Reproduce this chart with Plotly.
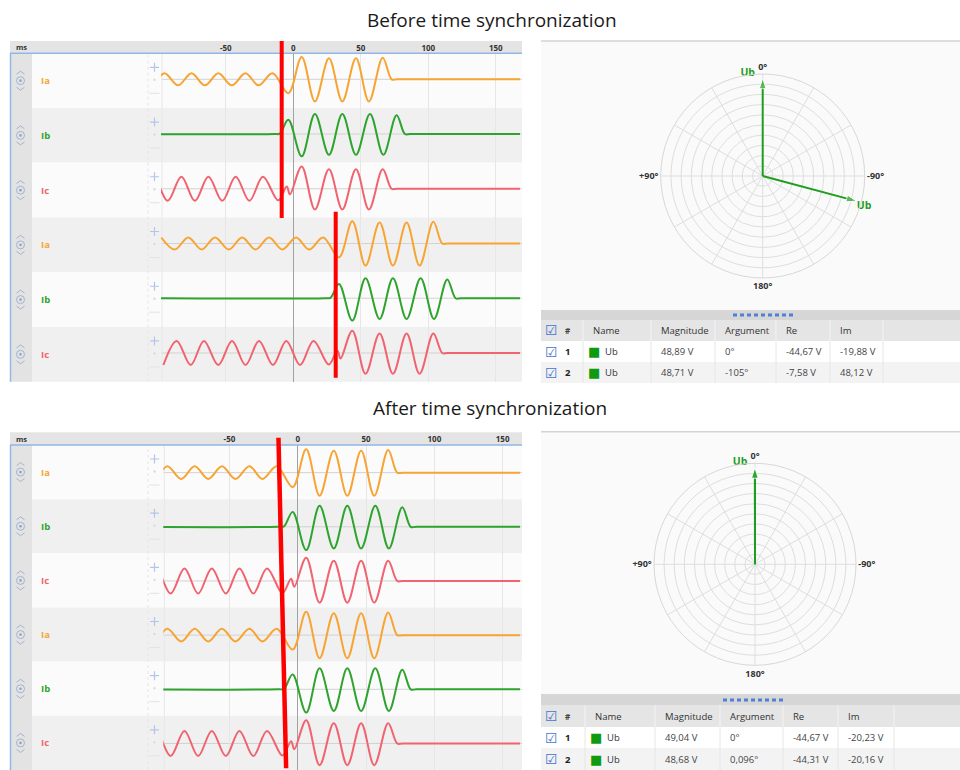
import plotly.graph_objects as go

W, H = 960, 770

# ---------------- data ----------------
# waveform turning points: time (ms, first recorder time base) and normalized amplitude
ia_t = [-135.3, -125.3, -115.3, -105.4, -95.5, -85.3, -75.4, -65.5, -55.5, -45.6, -35.4, -25.8, -15.4,
        -3.7, 6.2, 16.0, 26.4, 36.3, 46.4, 56.0, 66.2, 72.8, 77.0, 175.0]
ia_v = [0.27, -0.27, 0.27, -0.27, 0.27, -0.27, 0.27, -0.27, 0.27, -0.27, 0.27, -0.27, 0.27,
        -0.62, 1.0, -0.99, 0.94, -0.99, 0.94, -0.99, 0.97, 0.0, 0.0, 0.0]
ib_t = [-136.0, -14.0, -10.0, -3.7, 6.2, 16.0, 26.4, 36.3, 46.4, 56.8, 66.7, 76.5, 82.7, 87.0, 175.0]
ib_v = [0.0, 0.0, 0.02, 0.64, -1.0, 0.9, -0.93, 0.9, -0.93, 0.9, -0.93, 0.84, 0.0, 0.0, 0.0]
ic_t = [-133.7, -123.9, -113.5, -103.7, -93.1, -82.9, -72.9, -62.9, -52.6, -42.7, -32.5, -22.5, -11.2,
        -4.9, -2.5, 6.2, 16.0, 26.4, 36.3, 46.4, 56.0, 66.2, 72.8, 77.0, 175.0]
ic_v = [-0.54, 0.54, -0.54, 0.54, -0.54, 0.54, -0.54, 0.54, -0.54, 0.54, -0.54, 0.54, -0.52,
        0.1, -0.25, 1.0, -0.93, 0.87, -0.93, 0.87, -0.93, 0.87, 0.0, 0.0, 0.0]

phase_names = ["Ia", "Ib", "Ic"]
phase_colors = ["#f7a433", "#2ea32e", "#f0636f"]

recorder_offset_before = [0.0, 37.5]   # ms shift of the second recorder before synchronization
recorder_offset_after = [0.0, 0.0]

tick_ms = [-50, 0, 50, 100, 150]
tick_text = ["-50", "0", "50", "100", "150"]

cursor_before_ms = [-8.6, 31.4]
cursor_after_ms = [-14.1, -8.5]        # slanted cursor: top end, bottom end

# phasors
ph_names = ["Ub", "Ub"]
mag_before = [48.89, 48.71]
arg_before = [0.0, -105.0]
re_before = [-44.67, -7.58]
im_before = [-19.88, 48.12]
mag_after = [49.04, 48.68]
arg_after = [0.0, 0.096]
re_after = [-44.67, -44.31]
im_after = [-20.23, -20.16]

angle_ticks = list(range(0, 360, 30))
angle_labels = ["0°", "", "", "+90°", "", "", "180°", "", "", "-90°", "", ""]

# ---------------- helpers ----------------
def px(x):
    return x / W


def py(y):
    return 1 - y / H


FONT = "Open Sans"
fig = go.Figure()
shapes = []
annos = []


def anno(x, y, text, font, xanchor="center"):
    annos.append(dict(x=px(x), y=py(y), xref="paper", yref="paper", text=text, showarrow=False,
                      xanchor=xanchor, yanchor="middle", font=font))


panels = [
    dict(xa="x", ya="y", x0=161.0, x1=520.0, ms=[-98.0, 167.9], head_top=41.0, head_bot=53.3,
         rows_bot=381.7, amp_px=22.3, base_frac=0.475, offsets=recorder_offset_before),
    dict(xa="x2", ya="y2", x0=163.3, x1=520.0, ms=[-98.4, 162.7], head_top=432.3, head_bot=445.0,
         rows_bot=770.0, amp_px=23.3, base_frac=0.51, offsets=recorder_offset_after),
]
waves = [(ia_t, ia_v), (ib_t, ib_v), (ic_t, ic_v)]

layout_axes = {}
for pi, p in enumerate(panels):
    row_h = (p["rows_bot"] - p["head_bot"]) / 6
    pitch = row_h / p["amp_px"]
    # header bar
    shapes.append(dict(type="rect", xref="paper", yref="paper", x0=px(10), x1=px(522),
                       y0=py(p["head_bot"]), y1=py(p["head_top"]), fillcolor="#e4e4e4",
                       line=dict(width=0), layer="below"))
    shapes.append(dict(type="line", xref="paper", yref="paper", x0=px(10), x1=px(522),
                       y0=py(p["head_bot"]), y1=py(p["head_bot"]), line=dict(color="#93b6e6", width=1.5)))
    shapes.append(dict(type="line", xref="paper", yref="paper", x0=px(10.5), x1=px(10.5),
                       y0=py(p["rows_bot"]), y1=py(p["head_bot"]), line=dict(color="#93b6e6", width=1.5)))
    anno(14, (p["head_top"] + p["head_bot"]) / 2, "ms",
         dict(family=FONT, size=7.5, color="#333", weight="bold"), "left")
    # left strip
    shapes.append(dict(type="rect", xref="paper", yref="paper", x0=px(11), x1=px(32),
                       y0=py(p["rows_bot"]), y1=py(p["head_bot"]), fillcolor="#e3e3e3",
                       line=dict(width=0), layer="below"))
    for r in range(6):
        top = p["head_bot"] + r * row_h
        cen = top + row_h / 2
        shapes.append(dict(type="rect", xref="paper", yref="paper", x0=px(32), x1=px(522),
                           y0=py(top + row_h), y1=py(top),
                           fillcolor="#fbfbfb" if r % 2 == 0 else "#f0f0f0",
                           line=dict(width=0), layer="below"))
        base = -(r + p["base_frac"]) * pitch
        shapes.append(dict(type="line", xref="paper", yref=p["ya"], x0=px(p["x0"]), x1=px(522),
                           y0=base, y1=base, line=dict(color="#d2d2d2", width=1), layer="below"))
        # expand icon
        ic = dict(xref="paper", yref="paper", xsizemode="pixel", ysizemode="pixel",
                  xanchor=px(20.5), yanchor=py(cen))
        shapes.append(dict(type="circle", x0=-4, x1=4, y0=-4, y1=4,
                           line=dict(color="#a3b3d0", width=1), **ic))
        shapes.append(dict(type="circle", x0=-1.3, x1=1.3, y0=-1.3, y1=1.3, fillcolor="#8fa3c8",
                           line=dict(width=0), **ic))
        shapes.append(dict(type="path", path="M-4,6.5 L0,9.5 L4,6.5",
                           line=dict(color="#a3b3d0", width=1), **ic))
        shapes.append(dict(type="path", path="M-4,-6.5 L0,-9.5 L4,-6.5",
                           line=dict(color="#a3b3d0", width=1), **ic))
        # label
        k = r % 3
        anno(39, cen, phase_names[k], dict(family=FONT, size=9.5, color=phase_colors[k], weight="bold"), "left")
        # +/- zoom controls drawn as small shapes
        plus = dict(xref="paper", yref="paper", xsizemode="pixel", ysizemode="pixel",
                    xanchor=px(154.5), yanchor=py(top + 14))
        shapes.append(dict(type="path", path="M-4.5,0 L4.5,0 M0,-4.5 L0,4.5",
                           line=dict(color="#b3c6ea", width=1.2), **plus))
        dot = dict(xref="paper", yref="paper", xsizemode="pixel", ysizemode="pixel",
                   xanchor=px(154.5), yanchor=py(top + 26.5))
        shapes.append(dict(type="circle", x0=-1.2, x1=1.2, y0=-1.2, y1=1.2, fillcolor="#dadada",
                           line=dict(width=0), **dot))
        minus = dict(xref="paper", yref="paper", xsizemode="pixel", ysizemode="pixel",
                     xanchor=px(154.5), yanchor=py(top + 40))
        shapes.append(dict(type="path", path="M-5,0 L5,0",
                           line=dict(color="#e2e2e2", width=1), **minus))
    shapes.append(dict(type="line", xref="paper", yref="paper", x0=px(148), x1=px(148),
                       y0=py(p["rows_bot"]), y1=py(p["head_bot"]),
                       line=dict(color="#e6e6e6", width=1, dash="dot"), layer="below"))
    shapes.append(dict(type="line", xref="paper", yref="paper", x0=px(p["x0"] + 1), x1=px(p["x0"] + 1),
                       y0=py(p["rows_bot"]), y1=py(p["head_bot"]),
                       line=dict(color="#e8e8e8", width=1), layer="below"))

    # waveforms
    for g in range(2):
        for k in range(3):
            r = 3 * g + k
            t, v = waves[k]
            fig.add_trace(go.Scatter(
                x=[ti + p["offsets"][g] for ti in t],
                y=[vi - (r + p["base_frac"]) * pitch for vi in v],
                xaxis=p["xa"], yaxis=p["ya"], mode="lines",
                line=dict(color=phase_colors[k], width=2, shape="spline", smoothing=1),
                showlegend=False, hoverinfo="skip"))

    sfx = "" if pi == 0 else "2"
    layout_axes["xaxis" + sfx] = dict(
        domain=[px(p["x0"]), px(p["x1"])], range=p["ms"], side="top", anchor=p["ya"],
        tickmode="array", tickvals=tick_ms, ticktext=tick_text, ticks="",
        showgrid=True, gridcolor="#e6e6e6", zeroline=True, zerolinecolor="#a2a2a2",
        zerolinewidth=1, showline=False, fixedrange=True,
        tickfont=dict(family=FONT, size=8, color="#333", weight="bold"))
    layout_axes["yaxis" + sfx] = dict(
        domain=[py(p["rows_bot"]), py(p["head_bot"])], range=[-6 * pitch, 0], anchor=p["xa"],
        visible=False, fixedrange=True)

# red cursors
shapes.append(dict(type="line", xref="x", yref="paper", x0=cursor_before_ms[0], x1=cursor_before_ms[0],
                   y0=py(218), y1=py(41), line=dict(color="#ff0000", width=4)))
shapes.append(dict(type="line", xref="x", yref="paper", x0=cursor_before_ms[1], x1=cursor_before_ms[1],
                   y0=py(377.7), y1=py(211.7), line=dict(color="#ff0000", width=4)))
shapes.append(dict(type="line", xref="x2", yref="paper", x0=cursor_after_ms[0], x1=cursor_after_ms[1],
                   y0=py(437.7), y1=py(768.3), line=dict(color="#ff0000", width=4.5)))

# ---------------- phasor diagrams ----------------
GREEN = "#1e9e1e"
polars = [
    dict(pid="polar", cx=762.7, cy=176.0, R=102.0, top=41.0, band=310.0,
         mags=mag_before, args=arg_before, res=re_before, ims=im_before,
         head=(320.0, 341.0), rows=[(341.0, 362.0), (362.0, 383.0)],
         seps=[583, 651, 715, 776, 830, 883], dash=(733, 793, 315)),
    dict(pid="polar2", cx=755.0, cy=564.3, R=101.0, top=431.7, band=694.0,
         mags=mag_after, args=arg_after, res=re_after, ims=im_after,
         head=(705.0, 727.0), rows=[(727.0, 748.0), (748.0, 770.0)],
         seps=[585, 655, 720, 783, 838, 894], dash=(723, 786, 700)),
]


def fmt_v(v):
    return ("%.2f" % v).replace(".", ",") + " V"


def fmt_a(a):
    return ("%g" % a).replace(".", ",") + "°"


for q in polars:
    shapes.append(dict(type="rect", xref="paper", yref="paper", x0=px(541), x1=px(960),
                       y0=py(q["band"]), y1=py(q["top"]), fillcolor="#fafafa",
                       line=dict(width=0), layer="below"))
    shapes.append(dict(type="line", xref="paper", yref="paper", x0=px(541), x1=px(960),
                       y0=py(q["top"]), y1=py(q["top"]), line=dict(color="#d3d3d3", width=1.5)))
    drawn_labels = []
    for j in range(len(q["mags"])):
        a = q["args"][j]
        fig.add_trace(go.Scatterpolar(
            r=[0, q["mags"][j]], theta=[a, a], subplot=q["pid"],
            mode="lines+markers", line=dict(color=GREEN, width=2),
            marker=dict(symbol="arrow", size=[0, 11], angleref="previous", color=GREEN),
            showlegend=False, hoverinfo="skip"))
        # one label per visually coincident phasor
        if any(abs(a - b) < 1.0 and ph_names[j] == n for b, n in drawn_labels):
            continue
        drawn_labels.append((a, ph_names[j]))
        near_top = abs(a) < 45
        fig.add_trace(go.Scatterpolar(
            r=[q["mags"][j]], theta=[a + (4.5 if near_top else 0.0)], subplot=q["pid"], mode="text",
            text=[ph_names[j]], textposition="top left" if near_top else "bottom right",
            cliponaxis=False,
            textfont=dict(family=FONT, size=10.5, color=GREEN, weight="bold"),
            showlegend=False, hoverinfo="skip"))
    layout_axes[q["pid"]] = dict(
        domain=dict(x=[px(q["cx"] - q["R"]), px(q["cx"] + q["R"])],
                    y=[py(q["cy"] + q["R"]), py(q["cy"] - q["R"])]),
        bgcolor="rgba(0,0,0,0)",
        angularaxis=dict(rotation=90, direction="counterclockwise", tickmode="array",
                         tickvals=angle_ticks, ticktext=angle_labels, ticks="",
                         showline=True, linecolor="#d8d8d8", gridcolor="#dedede",
                         tickfont=dict(family=FONT, size=9, color="#333", weight="bold")),
        radialaxis=dict(range=[0, 51], tickmode="array", tickvals=[5.1 * i for i in range(1, 11)],
                        showticklabels=False, ticks="", showline=False, gridcolor="#dedede"))

    # ---- table ----
    seps = q["seps"]
    shapes.append(dict(type="rect", xref="paper", yref="paper", x0=px(541), x1=px(960),
                       y0=py(q["head"][0]), y1=py(q["band"]), fillcolor="#d6d6d6", line=dict(width=0)))
    shapes.append(dict(type="rect", xref="paper", yref="paper", x0=px(541), x1=px(960),
                       y0=py(q["head"][1]), y1=py(q["head"][0]), fillcolor="#e5e5e5", line=dict(width=0)))
    d0, d1, dy = q["dash"]
    shapes.append(dict(type="line", xref="paper", yref="paper", x0=px(d0), x1=px(d1),
                       y0=py(dy), y1=py(dy), line=dict(color="#4f7fd6", width=3, dash="4px,3px")))
    for ri, (r0, r1) in enumerate(q["rows"]):
        shapes.append(dict(type="rect", xref="paper", yref="paper", x0=px(541), x1=px(960),
                           y0=py(r1), y1=py(r0), fillcolor="#ffffff" if ri == 0 else "#f3f3f3",
                           line=dict(width=0)))
    for s in seps:
        shapes.append(dict(type="line", xref="paper", yref="paper", x0=px(s), x1=px(s),
                           y0=py(q["head"][1]), y1=py(q["head"][0]), line=dict(color="#f4f4f4", width=1)))
        shapes.append(dict(type="line", xref="paper", yref="paper", x0=px(s), x1=px(s),
                           y0=py(q["rows"][-1][1]), y1=py(q["rows"][0][0]), line=dict(color="#e6e6e6", width=1)))
    hy = (q["head"][0] + q["head"][1]) / 2
    tf = dict(family=FONT, size=9.5, color="#333")
    cb = dict(family="DejaVu Sans", size=14, color="#3f74d2")
    anno(551.7, hy, "☑", cb)
    anno(563, hy, "#", dict(family=FONT, size=8, color="#444", weight="bold"), "left")
    for ci, lab in enumerate(["Name", "Magnitude", "Argument", "Re", "Im"]):
        anno(seps[ci] + 8, hy, lab, tf, "left")
    for ri, (r0, r1) in enumerate(q["rows"]):
        ry = (r0 + r1) / 2
        anno(551.7, ry, "☑", cb)
        anno(563, ry, str(ri + 1), dict(family=FONT, size=9.5, color="#222", weight="bold"), "left")
        anno(seps[0] + 11, ry, "■", dict(family="DejaVu Sans", size=13, color="#0f9a0f"))
        anno(seps[0] + 20, ry, ph_names[ri], tf, "left")
        vals = [fmt_v(q["mags"][ri]), fmt_a(q["args"][ri]), fmt_v(q["res"][ri]), fmt_v(q["ims"][ri])]
        for ci, val in enumerate(vals):
            anno(seps[ci + 1] + 8, ry, val, dict(family=FONT, size=9.5, color="#444"), "left")

# titles
anno(492, 20, "Before time synchronization", dict(family=FONT, size=19, color="#1a1a1a"))
anno(489.5, 408, "After time synchronization", dict(family=FONT, size=19, color="#1a1a1a"))

fig.update_layout(
    width=W, height=H, margin=dict(l=0, r=0, t=0, b=0),
    paper_bgcolor="#ffffff", plot_bgcolor="rgba(0,0,0,0)",
    shapes=shapes, annotations=annos, showlegend=False, dragmode=False,
    **layout_axes)

fig.write_html("out.html", config={"displayModeBar": False},
               post_script="document.body.style.margin='0';")
